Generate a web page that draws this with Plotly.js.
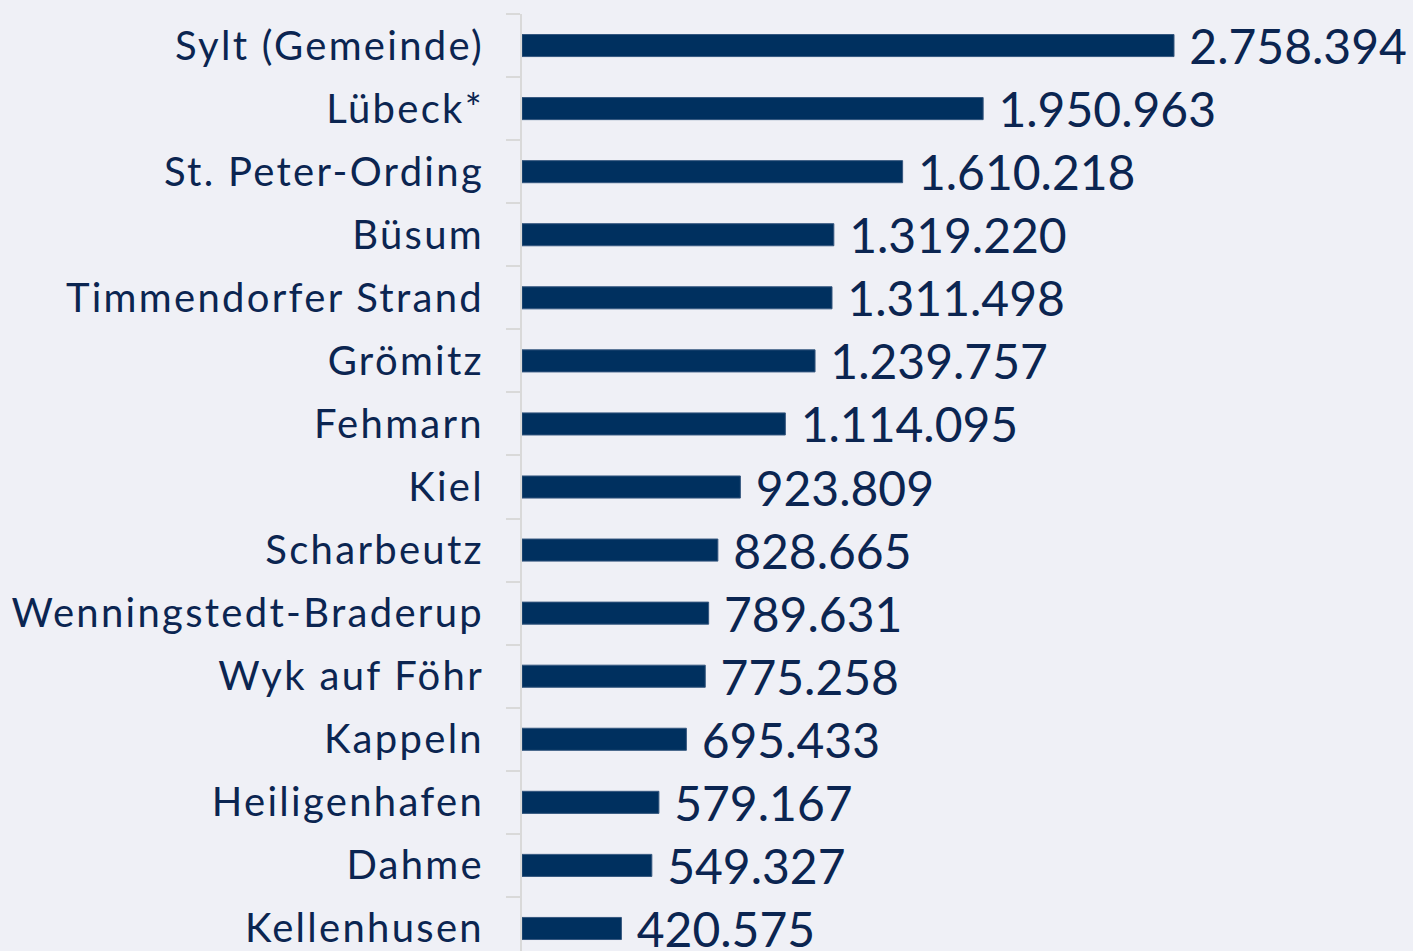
<!DOCTYPE html>
<html>
<head>
<meta charset="utf-8">
<script src="https://cdn.plot.ly/plotly-3.0.1.min.js"></script>
<style>
html, body { margin: 0; padding: 0; background: #eff0f6; overflow: hidden; }
#chart { width: 1413px; height: 951px; }
#chart .ytick text { letter-spacing: 2.3px; }
</style>
</head>
<body>
<div id="chart"></div>
<script>
const categories = [
  "Sylt (Gemeinde)", "Lübeck*", "St. Peter-Ording", "Büsum", "Timmendorfer Strand",
  "Grömitz", "Fehmarn", "Kiel", "Scharbeutz", "Wenningstedt-Braderup",
  "Wyk auf Föhr", "Kappeln", "Heiligenhafen", "Dahme", "Kellenhusen"
];
const values = [
  2758394, 1950963, 1610218, 1319220, 1311498,
  1239757, 1114095, 923809, 828665, 789631,
  775258, 695433, 579167, 549327, 420575
];

const trace = {
  type: "bar",
  orientation: "h",
  y: categories,
  x: values,
  marker: { color: "#00305f", line: { color: "#35577f", width: 1 } },
  texttemplate: "\u00a0%{x:,.0f}",
  textposition: "outside",
  constraintext: "none",
  cliponaxis: false,
  textfont: { family: "Lato, sans-serif", size: 48, color: "#0b2551" },
  hoverinfo: "none"
};

const layout = {
  width: 1413,
  height: 951,
  margin: { l: 522, r: 0, t: 14, b: 0, pad: 0 },
  paper_bgcolor: "#eff0f6",
  plot_bgcolor: "#eff0f6",
  separators: ",.",
  bargap: 0.65,
  showlegend: false,
  xaxis: {
    range: [0, 3769500],
    visible: false,
    showgrid: false,
    zeroline: false
  },
  yaxis: {
    type: "category",
    autorange: false,
    range: [14.357, -0.5],
    showline: true,
    linecolor: "#d9d9d9",
    linewidth: 2,
    ticks: "outside",
    tickson: "boundaries",
    ticklen: 14,
    tickwidth: 2,
    tickcolor: "#d9d9d9",
    showgrid: false,
    zeroline: false,
    ticklabelstandoff: 28,
    tickfont: { family: "Lato, sans-serif", size: 40, color: "#0b2551" }
  }
};

Plotly.newPlot("chart", [trace], layout, { displayModeBar: false, staticPlot: true });
</script>
</body>
</html>
